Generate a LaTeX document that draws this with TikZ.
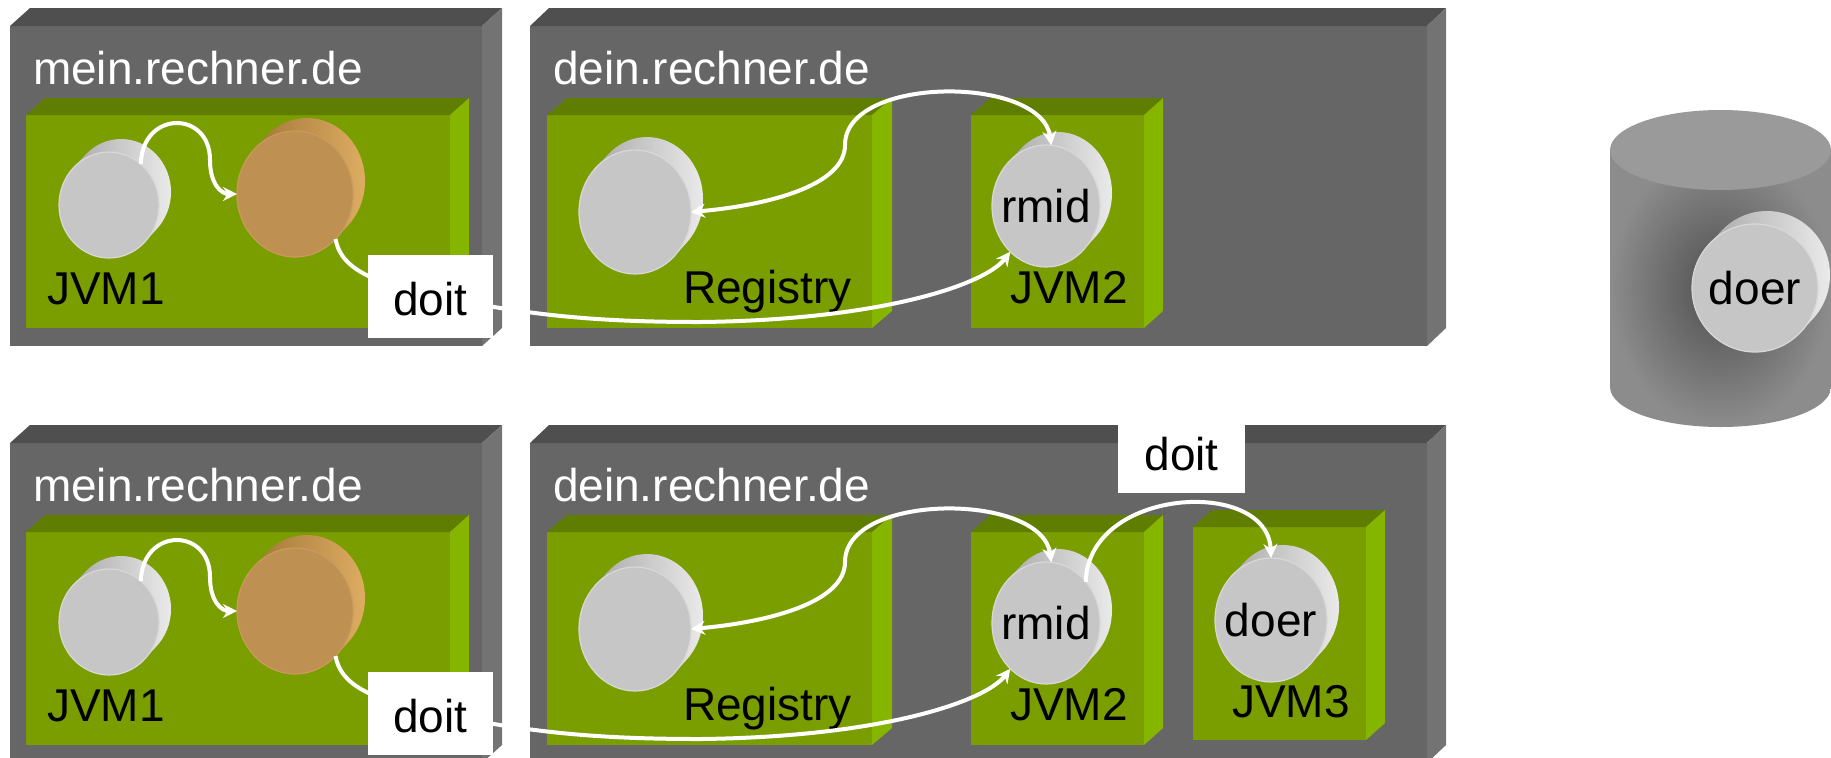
\documentclass[tikz,border=0pt]{standalone}
\usepackage{fontspec}
\setmainfont{Liberation Sans}
\usetikzlibrary{shapes.geometric,arrows.meta}
\definecolor{hostfront}{HTML}{666666}
\definecolor{hosttop}{HTML}{4F4F4F}
\definecolor{hostside}{HTML}{737373}
\definecolor{jvmfront}{HTML}{7A9E00}
\definecolor{jvmtop}{HTML}{5F7D00}
\definecolor{jvmside}{HTML}{86B500}
\definecolor{diskfacec}{HTML}{C6C6C6}
\definecolor{diskrim}{HTML}{D8D8D8}
\definecolor{disksideA}{HTML}{A2A2A2}
\definecolor{disksideB}{HTML}{EAEAEA}
\definecolor{objfacec}{HTML}{BE9052}
\definecolor{objrim}{HTML}{C99A5A}
\definecolor{objsideA}{HTML}{9A7034}
\definecolor{objsideB}{HTML}{DEAC62}
\definecolor{cyltop}{HTML}{9A9A9A}
\definecolor{cylin}{HTML}{4E4E4E}
\definecolor{cylout}{HTML}{8C8C8C}

\tikzset{
  txt/.style={font=\fontsize{23}{27}\selectfont, inner sep=0pt, outer sep=0pt},
  hostlabel/.style={txt, text=white, anchor=base west},
  jvmlabel/.style={txt, text=black, anchor=base west},
  diskface/.style={ellipse, inner sep=0pt, outer sep=0pt, fill=diskfacec, draw=diskrim,
    line width=0.6pt, font=\fontsize{23}{27}\selectfont},
  objface/.style={diskface, fill=objfacec, draw=objrim},
  conn/.style={draw=white, line width=2pt},
  tipend/.style={-{Stealth[length=7pt,width=7pt]}},
  tipboth/.style={{Stealth[length=7pt,width=7pt]}-{Stealth[length=7pt,width=7pt]}},
  msgbox/.style={rectangle, fill=white, inner sep=0pt, outer sep=0pt, txt, text=black},
}

% x1 y1 x2 y2 dx dy front top side
\newcommand\solidbox[9]{%
  \fill[#7] (#1,#2) rectangle (#3,#4);
  \fill[#8] (#1,#2) -- ({#1+#5},{#2-#6}) -- ({#3+#5},{#2-#6}) -- (#3,#2) -- cycle;
  \fill[#9] (#3,#2) -- ({#3+#5},{#2-#6}) -- ({#3+#5},{#4-#6}) -- (#3,#4) -- cycle;
}
% cx cy rx ry colA colB : rim of a coin seen from the front
\newcommand\diskback[6]{%
  \path[left color=#5, right color=#6]
    \foreach \k in {0,1,...,12}{ ({#1+\k},{#2-\k*13/12}) ellipse [x radius=#3, y radius=#4] };
}

\begin{document}
\begin{tikzpicture}[x=0.5pt, y=-0.5pt]
\useasboundingbox (0,0) rectangle (1831,757);
\fill[white] (0,0) rectangle (1831,757);

\foreach \oy/\s in {0/a,417/b}{
  % hosts
  \solidbox{10}{26+\oy}{482}{346+\oy}{20}{18}{hostfront}{hosttop}{hostside}
  \solidbox{530}{26+\oy}{1427}{346+\oy}{19}{18}{hostfront}{hosttop}{hostside}
  % JVMs
  \solidbox{26}{115+\oy}{450}{328+\oy}{19}{17}{jvmfront}{jvmtop}{jvmside}
  \solidbox{547}{115+\oy}{872}{328+\oy}{20}{17}{jvmfront}{jvmtop}{jvmside}
  \solidbox{971}{115+\oy}{1144}{328+\oy}{19}{17}{jvmfront}{jvmtop}{jvmside}
  % labels
  \node[hostlabel] (hm\s) at (33,{84+\oy}) {mein.rechner.de};
  \node[hostlabel] (hd\s) at (553,{84+\oy}) {dein.rechner.de};
  \node[jvmlabel] (jo\s) at (47,{304+\oy}) {JVM1};
  \node[jvmlabel] (jr\s) at (683,{303+\oy}) {Registry};
  \node[jvmlabel] (jt\s) at (1010,{303+\oy}) {JVM2};
  % disks
  \diskback{109}{205+\oy}{50}{53}{disksideA}{disksideB}
  \node[diskface, minimum width=50pt, minimum height=53pt] (g1\s) at (109,{205+\oy}) {};
  \diskback{295}{194+\oy}{58}{63}{objsideA}{objsideB}
  \node[objface, minimum width=58pt, minimum height=63pt] (o1\s) at (295,{194+\oy}) {};
  \diskback{635}{212+\oy}{56}{62}{disksideA}{disksideB}
  \node[diskface, minimum width=56pt, minimum height=62pt] (rg\s) at (635,{212+\oy}) {};
  \diskback{1046}{206+\oy}{54}{61}{disksideA}{disksideB}
  \node[diskface, minimum width=54pt, minimum height=61pt] (rm\s) at (1046,{206+\oy}) {\makebox[0pt]{rmid}};
  % connectors
  \draw[conn, tipend] (g1\s.52) .. controls (142,{110+\oy}) and (210,{110+\oy}) .. (210,{160+\oy})
        .. controls (210,{185+\oy}) and (222,{194+\oy}) .. (o1\s.180);
  \draw[conn, tipend] (o1\s.312) .. controls (340,{265+\oy}) and (365,{277+\oy}) .. (400,{288+\oy})
        .. controls (450,{300+\oy}) and (480,{305+\oy}) .. (494,{307+\oy})
        .. controls (560,{318+\oy}) and (620,{322+\oy}) .. (700,{322+\oy})
        .. controls (880,{320+\oy}) and (985,{285+\oy}) .. (rm\s.232);
  \draw[conn, tipboth] (rg\s.east) .. controls (770,{205+\oy}) and (845,{185+\oy}) .. (845,{145+\oy})
        .. controls (845,{75+\oy}) and (1042,{75+\oy}) .. (rm\s.85);
  \node[msgbox, minimum width=62.5pt, minimum height=41.5pt, text height=18.5pt, text depth=0pt]
        (m\s) at (430.5,{296.5+\oy}) {doit};
}

% JVM3 in the lower row
\solidbox{1193}{527}{1366}{740}{19}{17}{jvmfront}{jvmtop}{jvmside}
\node[jvmlabel] (j3) at (1232,717) {JVM3};
\diskback{1271}{620}{56}{62}{disksideA}{disksideB}
\node[diskface, minimum width=56pt, minimum height=62pt] (dr) at (1271,620) {\makebox[0pt]{doer}};
\draw[conn, tipend] (rmb.46) .. controls (1088,487) and (1268,477) .. (dr.north);
\node[msgbox, minimum width=63.5pt, minimum height=34pt, text height=16.75pt, text depth=5.75pt]
      (mc) at (1181.5,459) {doit};

% storage cylinder
\shade[inner color=cylin, outer color=cylout]
  (1610,150) -- (1610,387) arc[start angle=180, end angle=0, x radius=110.5, y radius=40]
  -- (1831,150) -- cycle;
\fill[cyltop] (1720.5,150) ellipse [x radius=110.5, y radius=40];
\diskback{1755}{288}{63}{64}{disksideA}{disksideB}
\node[diskface, minimum width=63pt, minimum height=64pt] (dc) at (1755,288) {\makebox[0pt]{doer}};
\end{tikzpicture}
\end{document}
